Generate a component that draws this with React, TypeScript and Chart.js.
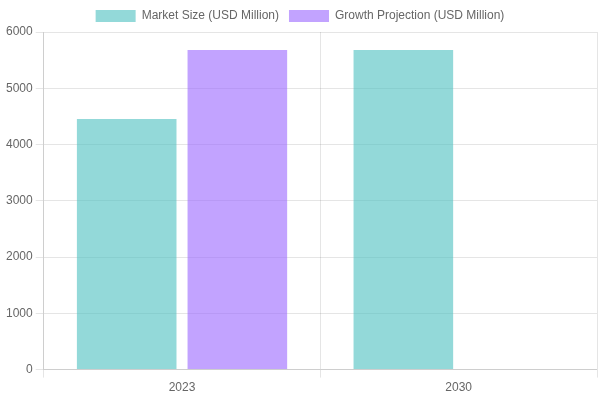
import React, { useEffect, useRef } from "react";
import { Chart, registerables } from "chart.js";

Chart.register(...registerables);

const categories = ["2023", "2030"];
const marketSize = [4455, 5680];
const growthProjection: (number | null)[] = [5680, null];

export default function App() {
  const ref = useRef<HTMLCanvasElement | null>(null);
  useEffect(() => {
    document.body.style.margin = "0";
    Chart.defaults.font.family = "'Liberation Sans', Arial, sans-serif";
    const chart = new Chart(ref.current!, {
      type: "bar",
      data: {
        labels: categories,
        datasets: [
          {
            label: "Market Size (USD Million)",
            data: marketSize,
            backgroundColor: "rgba(75, 192, 192, 0.6)",
            borderColor: "rgba(75, 192, 192, 1)",
            borderWidth: 0,
          },
          {
            label: "Growth Projection (USD Million)",
            data: growthProjection,
            backgroundColor: "rgba(153, 102, 255, 0.6)",
            borderColor: "rgba(153, 102, 255, 1)",
            borderWidth: 0,
          },
        ],
      },
      options: {
        animation: false,
        responsive: true,
        maintainAspectRatio: false,
        layout: { padding: { left: 3, right: 3, bottom: 2 } },
        scales: {
          y: {
            beginAtZero: true,
            max: 6000,
            ticks: { stepSize: 1000, callback: (v: any) => String(v) },
          },
        },
      },
    });
    return () => chart.destroy();
  }, []);
  return (
    <div style={{ width: 600, height: 400, position: "relative" }}>
      <canvas ref={ref} />
    </div>
  );
}
